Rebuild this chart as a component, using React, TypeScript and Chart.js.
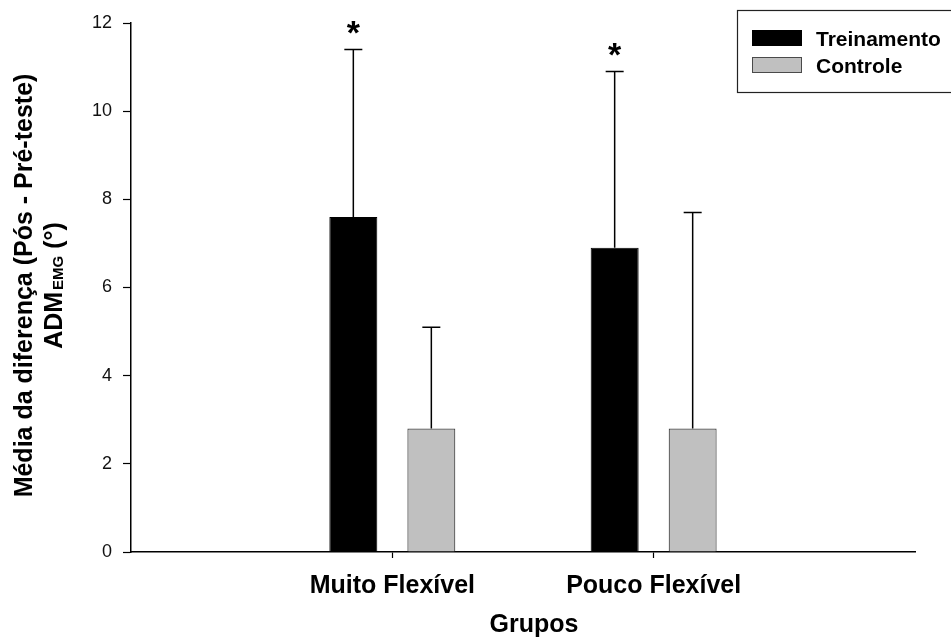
import React, { useEffect, useRef } from 'react';
import { Chart, registerables } from 'chart.js';
Chart.register(...registerables);

const FONT = 'Arial, "Liberation Sans", Helvetica, sans-serif';

const categories = ['', 'Muito Flexível', 'Pouco Flexível', ''];
const seriesNames = ['Treinamento', 'Controle'];
const treinamento = [null, 7.6, 6.9, null];
const treinamentoErr = [null, 3.8, 4.0, null];
const treinamentoSig = [false, true, true, false];
const controle = [null, 2.8, 2.8, null];
const controleErr = [null, 2.3, 4.9, null];
const controleSig = [false, false, false, false];
const yMin = 0;
const yMax = 12;
const yStep = 2;
const yTitleLine1 = 'Média da diferença (Pós - Pré-teste)';
const yTitleMain = 'ADM';
const yTitleSub = 'EMG';
const yTitleEnd = ' (°)';
const xTitle = 'Grupos';

const seriesColors = ['#000000', '#c0c0c0'];
const seriesBorders = ['#000000', '#4a4a4a'];

const errorsBySeries = [treinamentoErr, controleErr];
const sigBySeries = [treinamentoSig, controleSig];

const errorBarPlugin = {
  id: 'errorBars',
  afterDatasetsDraw(chart: any) {
    const ctx = chart.ctx;
    const y = chart.scales.y;
    chart.data.datasets.forEach((ds: any, di: number) => {
      const meta = chart.getDatasetMeta(di);
      meta.data.forEach((el: any, i: number) => {
        const v = ds.data[i];
        const e = errorsBySeries[di][i];
        if (v == null || e == null) return;
        const top = y.getPixelForValue(v + e);
        ctx.save();
        ctx.strokeStyle = '#000';
        ctx.lineWidth = 1.5;
        ctx.beginPath();
        ctx.moveTo(el.x, el.y);
        ctx.lineTo(el.x, top);
        ctx.moveTo(el.x - 9, top);
        ctx.lineTo(el.x + 9, top);
        ctx.stroke();
        if (sigBySeries[di][i]) {
          ctx.fillStyle = '#000';
          ctx.font = `bold 34px ${FONT}`;
          ctx.textAlign = 'center';
          ctx.textBaseline = 'alphabetic';
          ctx.fillText('*', el.x, top - 5);
        }
        ctx.restore();
      });
    });
  },
};

const decorPlugin = {
  id: 'decor',
  afterDraw(chart: any) {
    const ctx = chart.ctx;
    const area = chart.chartArea;
    ctx.save();
    ctx.fillStyle = '#000';
    // y title
    const cy = (area.top + area.bottom) / 2 - 2;
    ctx.save();
    ctx.translate(32, cy);
    ctx.rotate(-Math.PI / 2);
    ctx.font = `bold 25px ${FONT}`;
    ctx.textAlign = 'center';
    ctx.textBaseline = 'alphabetic';
    ctx.fillText(yTitleLine1, 0, 0);
    ctx.restore();

    ctx.save();
    ctx.translate(62, cy);
    ctx.rotate(-Math.PI / 2);
    ctx.textBaseline = 'alphabetic';
    ctx.textAlign = 'left';
    ctx.font = `bold 25px ${FONT}`;
    const w1 = ctx.measureText(yTitleMain).width;
    const w3 = ctx.measureText(yTitleEnd).width;
    ctx.font = `bold 15px ${FONT}`;
    const w2 = ctx.measureText(yTitleSub).width + 2;
    const total = w1 + w2 + w3;
    let x = -total / 2;
    ctx.font = `bold 25px ${FONT}`;
    ctx.fillText(yTitleMain, x, 0);
    x += w1 + 2;
    ctx.font = `bold 15px ${FONT}`;
    ctx.fillText(yTitleSub, x, 1);
    x += w2 - 2;
    ctx.font = `bold 25px ${FONT}`;
    ctx.fillText(yTitleEnd, x, 0);
    ctx.restore();

    // x title
    ctx.font = `bold 25px ${FONT}`;
    ctx.textAlign = 'center';
    ctx.textBaseline = 'alphabetic';
    ctx.fillText(xTitle, 534, 632);

    // legend
    ctx.strokeStyle = '#222';
    ctx.lineWidth = 1.2;
    ctx.strokeRect(737.5, 10.5, 260, 82);
    const rows = [30, 57];
    seriesNames.forEach((name, i) => {
      ctx.fillStyle = seriesColors[i];
      ctx.fillRect(752, rows[i], 50, 16);
      ctx.strokeStyle = seriesBorders[i];
      ctx.lineWidth = 1;
      ctx.strokeRect(752.5, rows[i] + 0.5, 49, 15);
      ctx.fillStyle = '#000';
      ctx.font = `bold 21px ${FONT}`;
      ctx.textAlign = 'left';
      ctx.textBaseline = 'alphabetic';
      ctx.fillText(name, 816, rows[i] + 15.5);
    });
    ctx.restore();
  },
};

export default function App() {
  const ref = useRef<HTMLCanvasElement | null>(null);
  useEffect(() => {
    if (!ref.current) return;
    const chart = new Chart(ref.current, {
      type: 'bar',
      data: {
        labels: categories,
        datasets: [
          {
            label: seriesNames[0],
            data: treinamento,
            backgroundColor: seriesColors[0],
            borderColor: seriesBorders[0],
            borderWidth: 1,
            categoryPercentage: 0.597,
            barPercentage: 0.615,
          },
          {
            label: seriesNames[1],
            data: controle,
            backgroundColor: seriesColors[1],
            borderColor: seriesBorders[1],
            borderWidth: 1.2,
            categoryPercentage: 0.597,
            barPercentage: 0.615,
          },
        ],
      } as any,
      options: {
        responsive: false,
        animation: false,
        devicePixelRatio: 1,
        layout: { padding: { top: 23, right: 36, left: 0, bottom: 0 } },
        plugins: { legend: { display: false }, tooltip: { enabled: false } },
        scales: {
          x: {
            type: 'category',
            offset: false,
            grid: {
              drawOnChartArea: false,
              drawTicks: true,
              tickLength: 6,
              offset: false,
              tickColor: (c: any) => (c.index === 1 || c.index === 2 ? '#000' : 'rgba(0,0,0,0)'),
              tickWidth: 1.2,
            },
            border: { display: true, color: '#000', width: 1.5 },
            ticks: {
              autoSkip: false,
              maxRotation: 0,
              padding: 13,
              color: '#000',
              font: { family: FONT, size: 25, weight: 'bold' },
            },
            afterFit: (s: any) => {
              s.height = 86;
            },
          },
          y: {
            min: yMin,
            max: yMax,
            grid: {
              drawOnChartArea: false,
              drawTicks: true,
              tickLength: 8,
              tickColor: '#000',
              tickWidth: 1.2,
            },
            border: { display: true, color: '#000', width: 1.5 },
            ticks: {
              stepSize: yStep,
              padding: 11,
              color: '#111',
              font: { family: FONT, size: 18 },
            },
            afterFit: (s: any) => {
              s.width = 131;
            },
          },
        },
      } as any,
      plugins: [errorBarPlugin, decorPlugin],
    });
    return () => chart.destroy();
  }, []);
  return (
    <div style={{ position: 'absolute', left: 0, top: 0, width: 951, height: 638, background: '#fff' }}>
      <canvas ref={ref} width={951} height={638} style={{ display: 'block' }} />
    </div>
  );
}
